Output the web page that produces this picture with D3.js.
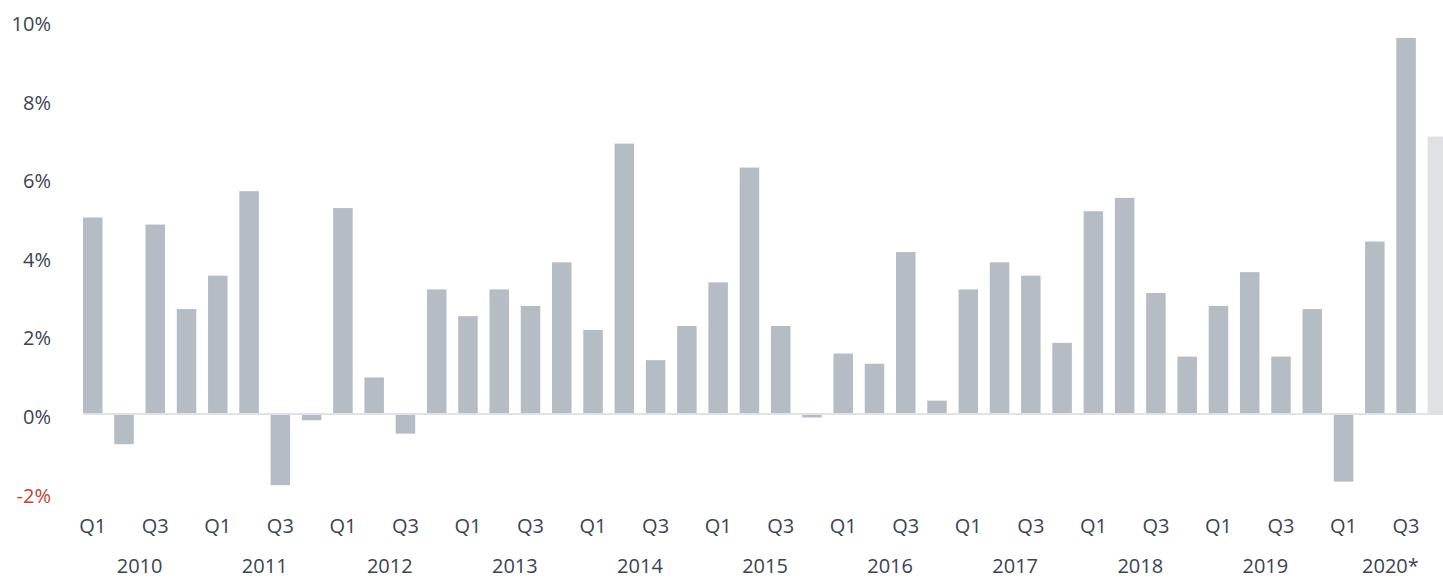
<!DOCTYPE html>
<html>
<head>
<meta charset="utf-8">
<script src="https://cdn.jsdelivr.net/npm/d3@7"></script>
<style>
  body { margin: 0; background: #fff; }
  svg { display: block; }
  text { font-family: "Open Sans", sans-serif; }
</style>
</head>
<body>
<div class="chart"></div>
<script>
// data
var years = ["2010", "2011", "2012", "2013", "2014", "2015", "2016", "2017", "2018", "2019", "2020*"];
var quarters = ["Q1", "Q2", "Q3", "Q4"];
var values = [
  5.0, -0.77, 4.82, 2.67,
  3.52, 5.67, -1.81, -0.16,
  5.24, 0.93, -0.5, 3.17,
  2.49, 3.17, 2.75, 3.86,
  2.14, 6.88, 1.37, 2.24,
  3.35, 6.27, 2.24, -0.09,
  1.54, 1.28, 4.12, 0.34,
  3.17, 3.86, 3.52, 1.81,
  5.16, 5.5, 3.08, 1.46,
  2.75, 3.61, 1.46, 2.67,
  -1.72, 4.39, 9.57, 7.06
];
var estimated = [43]; // last quarter is an estimate
var yTicks = [-2, 0, 2, 4, 6, 8, 10];

var width = 1443, height = 578;

var rows = [];
years.forEach(function (yr, i) {
  quarters.forEach(function (q, j) {
    var k = i * 4 + j;
    rows.push({ key: yr + "-" + q, year: yr, q: q, value: values[k], idx: k });
  });
});

var x = d3.scaleBand()
  .domain(rows.map(function (d) { return d.key; }))
  .range([77.1, 77.1 + 44 * 31.27])
  .paddingInner(0.376)
  .paddingOuter(0.188);

var y = d3.scaleLinear()
  .domain([-2, 10])
  .range([492.6, 21]);

var svg = d3.select(".chart")
  .append("svg")
  .attr("width", width)
  .attr("height", height);

// y labels
svg.append("g")
  .selectAll("text")
  .data(yTicks)
  .enter().append("text")
  .attr("x", 51)
  .attr("y", function (d) { return y(d) + 3; })
  .attr("dy", "0.35em")
  .attr("text-anchor", "end")
  .attr("font-size", "20px")
  .attr("fill", function (d) { return d < 0 ? "#c0462f" : "#3b4352"; })
  .text(function (d) { return d + "%"; });

// bars
svg.append("g")
  .selectAll("rect")
  .data(rows)
  .enter().append("rect")
  .attr("x", function (d) { return x(d.key); })
  .attr("y", function (d) { return y(Math.max(0, d.value)); })
  .attr("width", x.bandwidth())
  .attr("height", function (d) { return Math.abs(y(d.value) - y(0)); })
  .attr("fill", function (d) { return estimated.indexOf(d.idx) >= 0 ? "#e0e1e5" : "#b6bcc4"; });

// zero line
svg.append("line")
  .attr("x1", x(rows[0].key))
  .attr("x2", width)
  .attr("y1", y(0))
  .attr("y2", y(0))
  .attr("stroke", "#dfe3e8")
  .attr("stroke-width", 2);

// quarter labels (Q1 and Q3 only)
svg.append("g")
  .selectAll("text")
  .data(rows.filter(function (d) { return d.q === "Q1" || d.q === "Q3"; }))
  .enter().append("text")
  .attr("x", function (d) { return x(d.key) + x.bandwidth() / 2; })
  .attr("y", 526)
  .attr("dy", "0.35em")
  .attr("text-anchor", "middle")
  .attr("font-size", "20px")
  .attr("fill", "#3b4352")
  .text(function (d) { return d.q; });

// year labels
svg.append("g")
  .selectAll("text")
  .data(years)
  .enter().append("text")
  .attr("x", function (d) {
    var a = x(d + "-Q1"), b = x(d + "-Q4") + x.bandwidth();
    return (a + b) / 2;
  })
  .attr("y", 566)
  .attr("dy", "0.35em")
  .attr("text-anchor", "middle")
  .attr("font-size", "20px")
  .attr("fill", "#3b4352")
  .text(function (d) { return d; });
</script>
</body>
</html>
